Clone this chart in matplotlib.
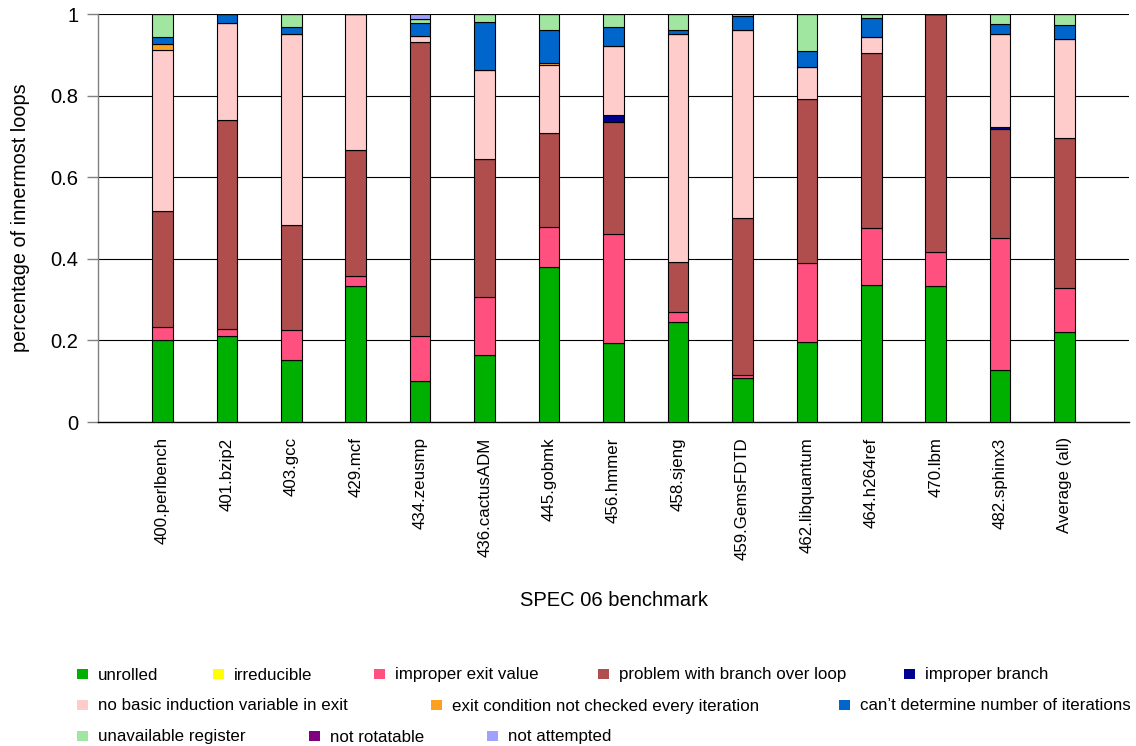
import numpy as np
import matplotlib
matplotlib.use("Agg")
import matplotlib.pyplot as plt
from matplotlib.patches import Rectangle

plt.rcParams['font.family'] = ['Liberation Sans', 'DejaVu Sans']

benchmarks = ["400.perlbench", "401.bzip2", "403.gcc", "429.mcf", "434.zeusmp",
              "436.cactusADM", "445.gobmk", "456.hmmer", "458.sjeng", "459.GemsFDTD",
              "462.libquantum", "464.h264ref", "470.lbm", "482.sphinx3", "Average (all)"]

reasons = ["unrolled", "irreducible", "improper exit value", "problem with branch over loop",
           "improper branch", "no basic induction variable in exit",
           "exit condition not checked every iteration", "can\u2019t determine number of iterations",
           "unavailable register", "not rotatable", "not attempted"]

# fraction of innermost loops per reason, one list per reason (benchmark order above)
unrolled         = [0.200, 0.211, 0.153, 0.334, 0.101, 0.165, 0.380, 0.193, 0.244, 0.109, 0.195, 0.336, 0.334, 0.128, 0.220]
irreducible      = [0.000, 0.000, 0.000, 0.000, 0.000, 0.000, 0.000, 0.000, 0.000, 0.000, 0.000, 0.000, 0.000, 0.000, 0.000]
improper_exit    = [0.032, 0.018, 0.073, 0.023, 0.111, 0.141, 0.099, 0.267, 0.026, 0.006, 0.195, 0.139, 0.082, 0.324, 0.109]
branch_over_loop = [0.286, 0.510, 0.257, 0.310, 0.719, 0.338, 0.230, 0.276, 0.121, 0.386, 0.402, 0.429, 0.584, 0.266, 0.366]
improper_branch  = [0.000, 0.000, 0.000, 0.000, 0.000, 0.000, 0.000, 0.017, 0.000, 0.000, 0.000, 0.000, 0.000, 0.005, 0.002]
no_basic_iv      = [0.394, 0.239, 0.468, 0.333, 0.014, 0.219, 0.166, 0.169, 0.561, 0.461, 0.077, 0.040, 0.000, 0.228, 0.241]
exit_not_checked = [0.015, 0.000, 0.000, 0.000, 0.000, 0.000, 0.006, 0.000, 0.000, 0.000, 0.000, 0.000, 0.000, 0.000, 0.001]
cant_determine   = [0.017, 0.022, 0.017, 0.000, 0.033, 0.117, 0.080, 0.045, 0.009, 0.033, 0.040, 0.045, 0.000, 0.024, 0.034]
unavailable_reg  = [0.056, 0.000, 0.032, 0.000, 0.010, 0.020, 0.039, 0.033, 0.039, 0.005, 0.091, 0.011, 0.000, 0.025, 0.026]
not_rotatable    = [0.000, 0.000, 0.000, 0.000, 0.000, 0.000, 0.000, 0.000, 0.000, 0.000, 0.000, 0.000, 0.000, 0.000, 0.000]
not_attempted    = [0.000, 0.000, 0.000, 0.000, 0.012, 0.000, 0.000, 0.000, 0.000, 0.000, 0.000, 0.000, 0.000, 0.000, 0.002]

series = [unrolled, irreducible, improper_exit, branch_over_loop, improper_branch, no_basic_iv,
          exit_not_checked, cant_determine, unavailable_reg, not_rotatable, not_attempted]

colors = ["#00b000", "#ffff00", "#ff5080", "#b04d4d", "#000090", "#ffcccc",
          "#ff9f20", "#0066cc", "#a0e6a0", "#800080", "#a0a0ff"]

y_ticks = [0, 0.2, 0.4, 0.6, 0.8, 1.0]
y_tick_labels = ["0", "0.2", "0.4", "0.6", "0.8", "1"]

W, H = 1136, 746
fig = plt.figure(figsize=(W / 100, H / 100), dpi=100)
ax = fig.add_axes([98 / W, 1 - 422 / H, (1129 - 98) / W, (422 - 14) / H])

x = np.arange(len(benchmarks))
bottom = np.zeros(len(benchmarks))
for vals, col in zip(series, colors):
    v = np.array(vals)
    ax.bar(x, v, width=0.32, bottom=bottom, color=col, edgecolor="black",
           linewidth=0.8, zorder=3)
    bottom += v

ax.set_xlim(-1, len(benchmarks))
ax.set_ylim(0, 1)
ax.set_yticks(y_ticks)
ax.set_yticklabels(y_tick_labels, fontsize=14.5)
ax.tick_params(axis="y", length=8, width=1, color="#808080", pad=6)
ax.set_xticks(x)
ax.set_xticklabels(benchmarks, rotation=90, fontsize=12.2, va="top")
ax.tick_params(axis="x", length=0, pad=11)

for yt in y_ticks[1:]:
    ax.axhline(yt, color="black", linewidth=0.8, zorder=1)
for side in ("top", "right"):
    ax.spines[side].set_visible(False)
ax.spines["left"].set_color("#808080")
ax.spines["left"].set_linewidth(1)
ax.spines["bottom"].set_color("black")
ax.spines["bottom"].set_linewidth(1)

fig.text(21 / W, 1 - 218 / H, "percentage of innermost loops", rotation=90,
         ha="center", va="center", fontsize=14.3)
fig.text(614 / W, 1 - 601 / H, "SPEC 06 benchmark", ha="center", va="center", fontsize=14.5)

# legend entries flowed in three rows: (marker left x, row centre y) in pixels
legend_layout = [(77, 674), (213, 674), (374, 674), (598, 674), (904, 674),
                 (77, 705), (431, 705), (839, 705),
                 (77, 736), (309, 736), (487, 736)]
msz = 10.5
for (lx, ly), name, col in zip(legend_layout, reasons, colors):
    fig.add_artist(Rectangle((lx / W, 1 - (ly + msz / 2) / H), msz / W, msz / H,
                             transform=fig.transFigure, facecolor=col, edgecolor="none"))
    fig.text((lx + 21) / W, 1 - (ly + 5.5) / H, name, ha="left", va="baseline", fontsize=12.2)

fig.savefig("out.png", dpi=100)
